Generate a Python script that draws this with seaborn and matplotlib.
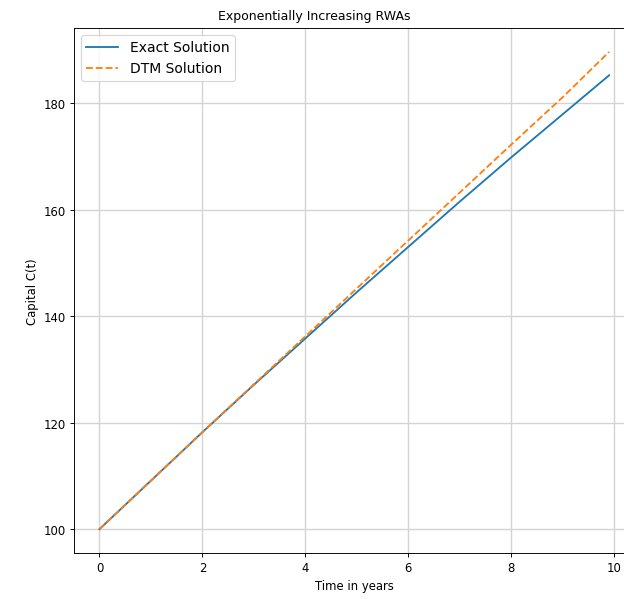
import numpy as np
import pandas as pd
import matplotlib
matplotlib.use("Agg")
import matplotlib.pyplot as plt
import seaborn as sns

# --- Data ---
t_years = [0, 1, 2, 3, 4, 5, 6, 7, 8, 9, 9.9]
exact_capital = [100.0, 109.1, 118.2, 127.1, 135.8, 144.5, 153.0, 161.5, 169.8, 177.9, 185.2]
dtm_capital = [100.0, 109.1, 118.2, 127.2, 136.2, 145.2, 154.2, 163.2, 172.2, 181.1, 189.6]

df = pd.DataFrame({
    "t": t_years,
    "exact": exact_capital,
    "dtm": dtm_capital,
})

# --- Plot ---
fig = plt.figure(figsize=(7.5, 7.2), dpi=83.33)
ax = fig.add_axes([0.1184, 0.0767, 0.897, 0.875])

sns.lineplot(data=df, x="t", y="exact", ax=ax, color="tab:blue",
             linewidth=1.6, label="Exact Solution")
sns.lineplot(data=df, x="t", y="dtm", ax=ax, color="tab:orange",
             linewidth=1.6, linestyle="--", label="DTM Solution")

# title sits centred on the figure, not the (cropped) axes
fig.text(0.5024, 1 - 20 / 600, "Exponentially Increasing RWAs",
         ha="center", va="baseline", fontsize=10.8)
ax.set_xlabel("Time in years")
ax.set_ylabel("Capital C(t)")
ax.set_xticks([0, 2, 4, 6, 8, 10])
ax.set_yticks([100, 120, 140, 160, 180])
ax.grid(True, color="#d4d4d4", linewidth=1.2)
ax.legend(loc="upper left", fontsize=12, handlelength=2.3)

fig.savefig("out.png", dpi=83.33)
